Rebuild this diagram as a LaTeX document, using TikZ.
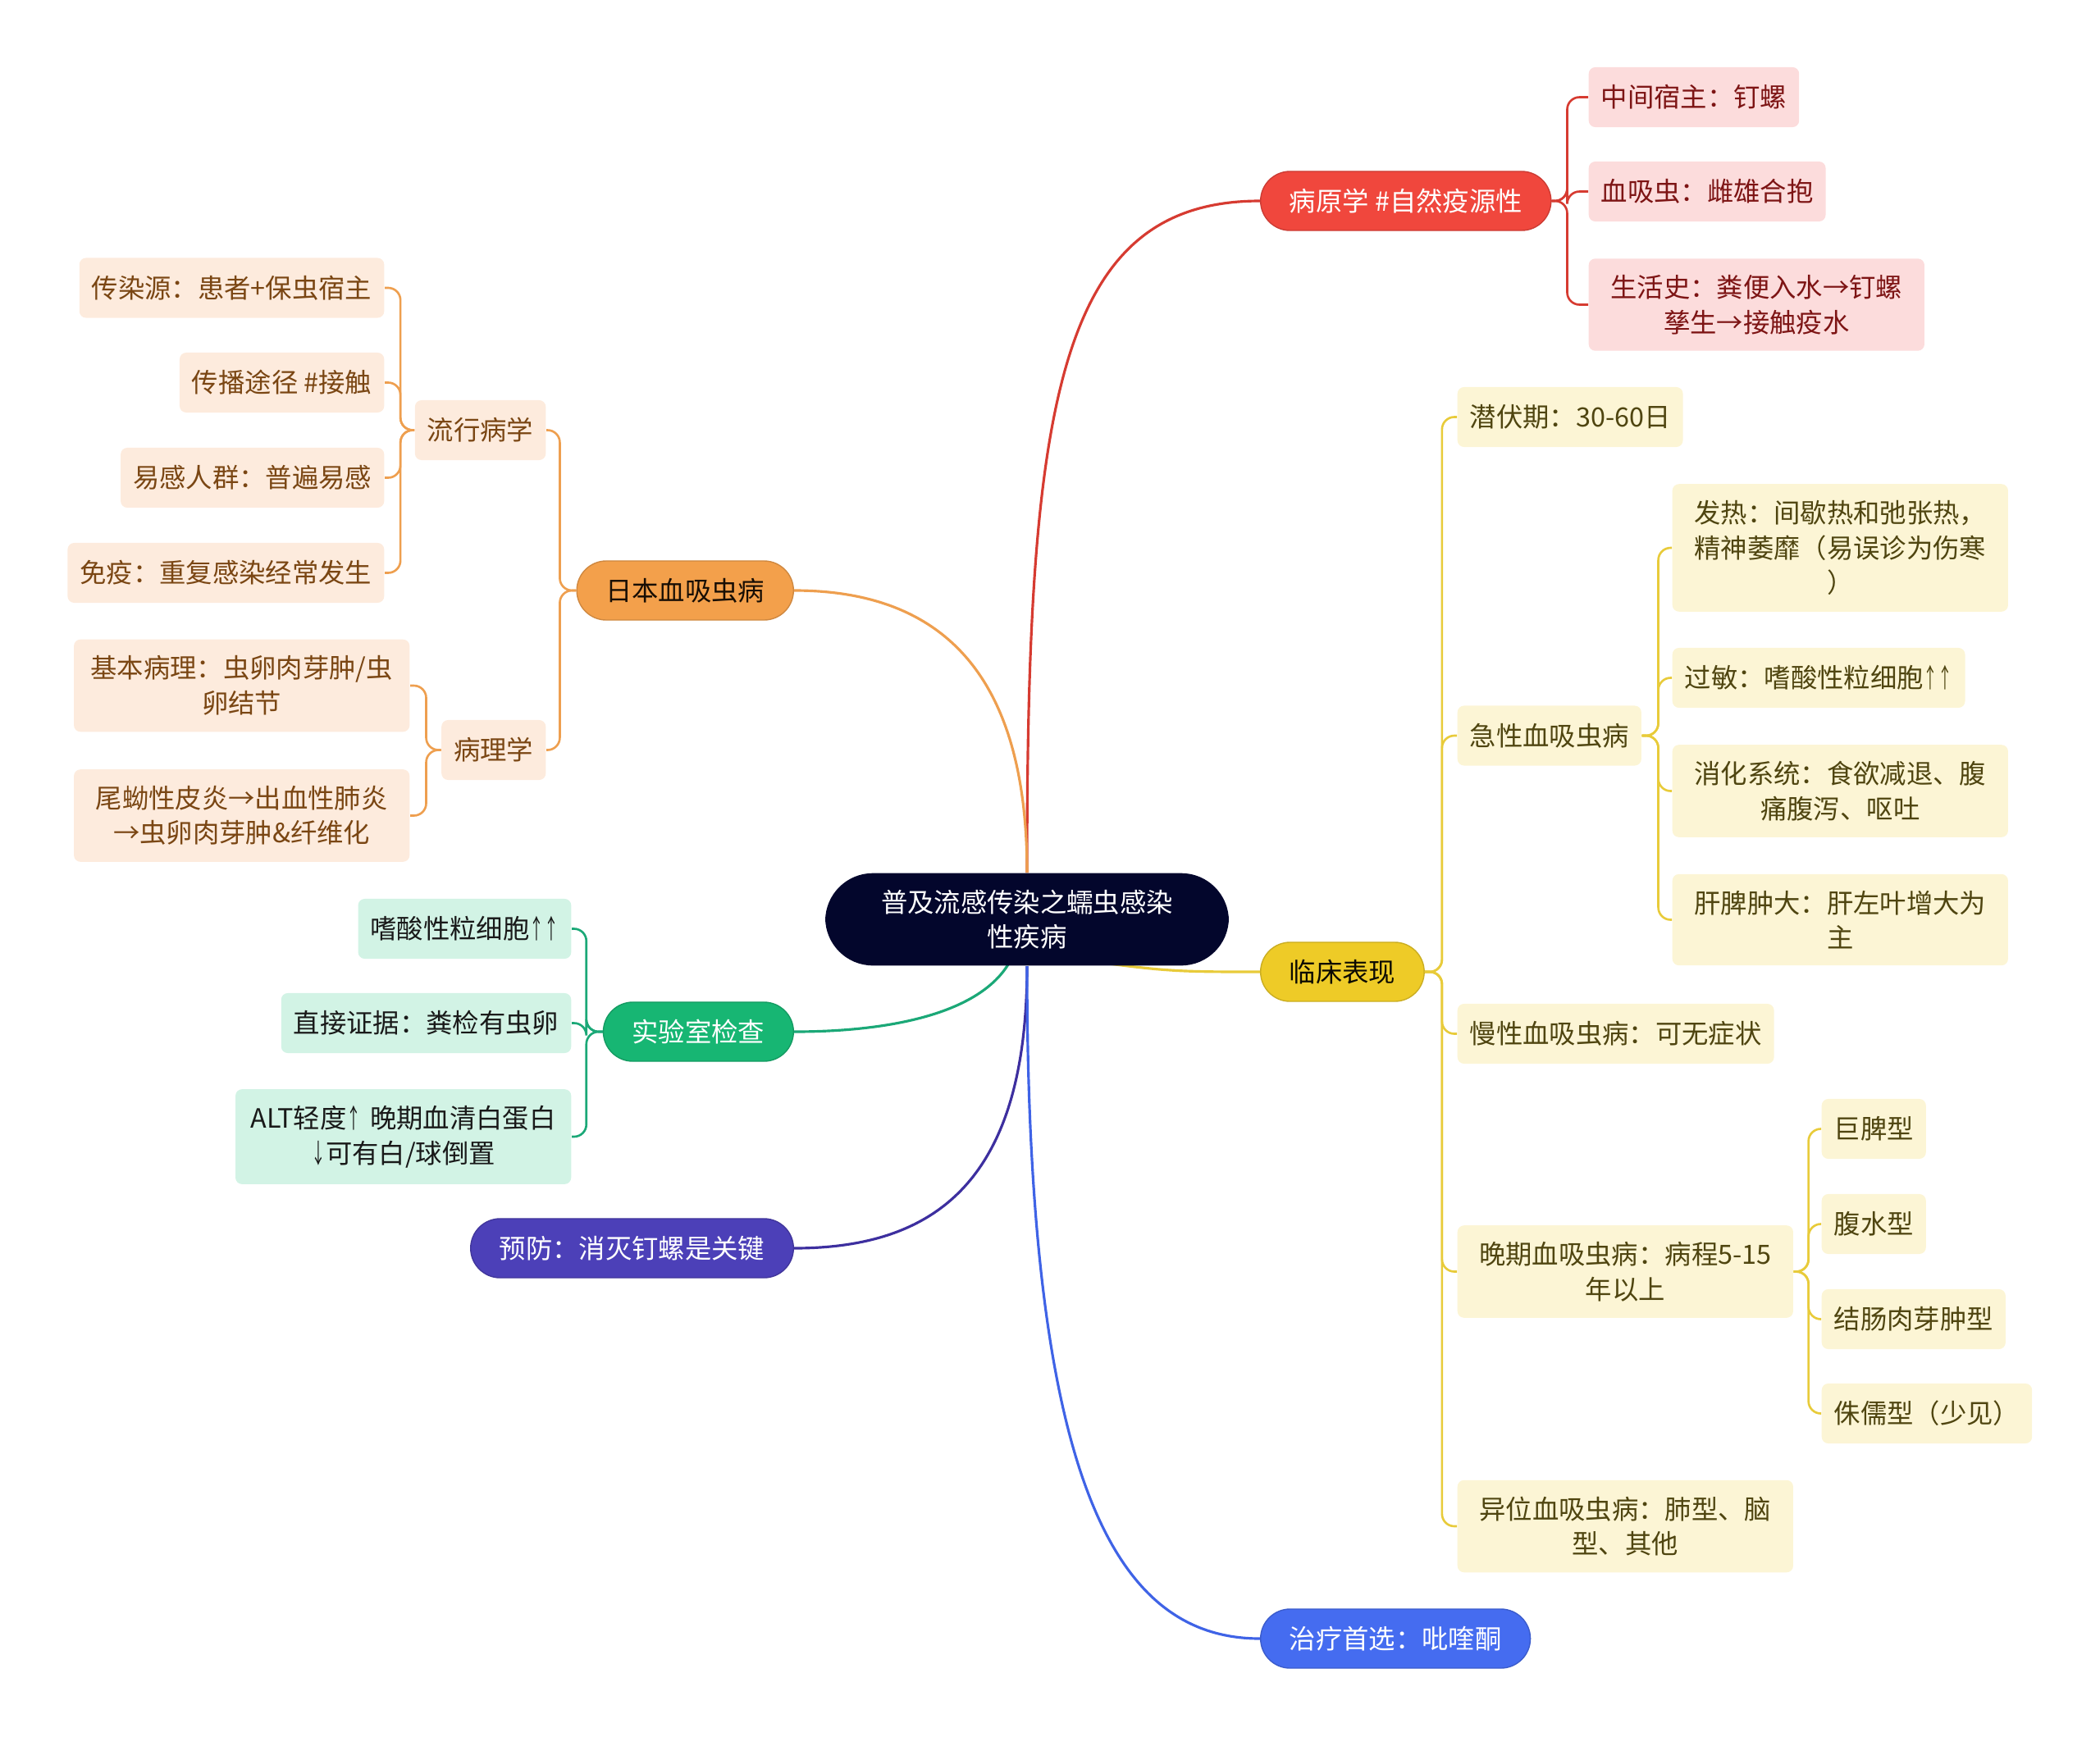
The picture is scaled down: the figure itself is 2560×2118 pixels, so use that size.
\documentclass[tikz,border=0pt]{standalone}
\usepackage{graphicx}
\usepackage{fontspec}
\setmainfont{Noto Sans CJK SC}
\newcommand\uparr{\scalebox{0.55}[1]{↑}}
\newcommand\dnarr{\scalebox{0.55}[1]{↓}}
\usetikzlibrary{positioning, backgrounds}

\definecolor{rootbg}{HTML}{03062C}
\definecolor{redm}{HTML}{F0473D}
\definecolor{orgm}{HTML}{F3A04B}
\definecolor{ylwm}{HTML}{EECB27}
\definecolor{grnm}{HTML}{17B673}
\definecolor{prpm}{HTML}{4C40B8}
\definecolor{blum}{HTML}{456CF0}
\definecolor{redlt}{HTML}{FCDCDC}
\definecolor{orglt}{HTML}{FDEBDD}
\definecolor{ylwlt}{HTML}{FCF5D5}
\definecolor{grnlt}{HTML}{D2F3E5}
\definecolor{redtx}{HTML}{7D1414}
\definecolor{orgtx}{HTML}{7A4613}
\definecolor{ylwtx}{HTML}{4F4510}
\definecolor{redln}{HTML}{D63B31}
\definecolor{ylwln}{HTML}{E8CB3A}
\definecolor{grnln}{HTML}{1BA877}
\definecolor{prpln}{HTML}{3D2F9F}
\definecolor{bluln}{HTML}{3F63E6}
\definecolor{orgln}{HTML}{EE9F4F}

\begin{document}
\begin{tikzpicture}[
    x=0.01cm, y=-0.01cm,
    font=\fontsize{9.2pt}{12.1pt}\selectfont,
    rootbox/.style={rectangle, fill=rootbg, text=white, rounded corners=0.58cm,
                    inner xsep=0.68cm, inner ysep=0.2cm, align=center},
    topicbox/.style={rectangle, rounded corners=0.36cm, minimum height=0.72cm,
                     inner xsep=0.35cm, inner ysep=0.15cm, line width=0.4pt},
    redtopic/.style={topicbox, fill=redm, draw=redm!85!black, text=white},
    orgtopic/.style={topicbox, fill=orgm, draw=orgm!85!black, text=black!80!orgtx},
    ylwtopic/.style={topicbox, fill=ylwm, draw=ylwm!85!black, text=black!85!ylwtx},
    grntopic/.style={topicbox, fill=grnm, draw=grnm!85!black, text=white},
    prptopic/.style={topicbox, fill=prpm, draw=prpm!85!black, text=white},
    blutopic/.style={topicbox, fill=blum, draw=blum!85!black, text=white},
    leafbox/.style={rectangle, rounded corners=0.08cm, minimum height=0.73cm,
                    inner xsep=0.15cm, inner ysep=0.2cm, align=center},
    twoline/.style={text width=3.79cm},
    redleaf/.style={leafbox, fill=redlt, text=redtx},
    orgleaf/.style={leafbox, fill=orglt, text=orgtx},
    ylwleaf/.style={leafbox, fill=ylwlt, text=ylwtx},
    grnleaf/.style={leafbox, fill=grnlt, text=black!90},
    link/.style={line width=0.9pt},
    brace/.style={line width=0.75pt, rounded corners=0.15cm},
]
\useasboundingbox (0,0) rectangle (2560,2118);

% Centre
\node[rootbox] (root) at (1252,1121) {普及流感传染之蠕虫感染\\性疾病};

% Main topics
\node[redtopic, anchor=west] (pya)  at (1536,245)  {病原学 \#自然疫源性};
\node[orgtopic, anchor=east] (jpn)  at (968,720)   {日本血吸虫病};
\node[ylwtopic, anchor=west] (clin) at (1536,1185) {临床表现};
\node[grntopic, anchor=east] (lab)  at (968,1258)  {实验室检查};
\node[prptopic, anchor=east] (prev) at (968,1522)  {预防：消灭钉螺是关键};
\node[blutopic, anchor=west] (cure) at (1536,1998) {治疗首选：吡喹酮};

% Aetiology
\node[redleaf, anchor=west] (host) at (1936,118.5) {中间宿主：钉螺};
\node[redleaf, anchor=west] (worm) at (1936,233.5) {血吸虫：雌雄合抱};
\node[redleaf, twoline, anchor=west] (life) at (1936,371.5) {生活史：粪便入水→钉螺\\孳生→接触疫水};

% Schistosomiasis japonica
\node[orgleaf, anchor=east] (epi)  at (666,524.5) {流行病学};
\node[orgleaf, anchor=east] (path) at (666,914.5) {病理学};

\node[orgleaf, anchor=east] (src)   at (469,351)   {传染源：患者+保虫宿主};
\node[orgleaf, anchor=east] (route) at (469,466.5) {传播途径 \#接触};
\node[orgleaf, anchor=east] (susc)  at (469,582.5) {易感人群：普遍易感};
\node[orgleaf, anchor=east] (immu)  at (469,698.5) {免疫：重复感染经常发生};

\node[orgleaf, twoline, anchor=east] (basic) at (500,836)   {基本病理：虫卵肉芽肿/虫\\卵结节};
\node[orgleaf, twoline, anchor=east] (stage) at (500,994.5) {尾蚴性皮炎→出血性肺炎\\→虫卵肉芽肿\&纤维化};

% Clinical features
\node[ylwleaf, anchor=west] (incub) at (1776,508.5) {潜伏期：30-60日};
\node[ylwleaf, anchor=west] (acute) at (1776,897) {急性血吸虫病};
\node[ylwleaf, anchor=west] (chron) at (1776,1260.5) {慢性血吸虫病：可无症状};
\node[ylwleaf, twoline, anchor=west] (late)  at (1776,1550.5) {晚期血吸虫病：病程5-15\\年以上};
\node[ylwleaf, twoline, anchor=west] (ectop) at (1776,1861) {异位血吸虫病：肺型、脑\\型、其他};

\node[ylwleaf, twoline, anchor=west] (fever) at (2038,668) {发热：间歇热和弛张热，\\精神萎靡（易误诊为伤寒\\）};
\node[ylwleaf, anchor=west] (allg) at (2038,826.5) {过敏：嗜酸性粒细胞\uparr\uparr};
\node[ylwleaf, twoline, anchor=west] (dige) at (2038,964.5) {消化系统：食欲减退、腹\\痛腹泻、呕吐};
\node[ylwleaf, twoline, anchor=west] (hepa) at (2038,1121.5) {肝脾肿大：肝左叶增大为\\主};

\node[ylwleaf, anchor=west] (splen) at (2220,1376.5) {巨脾型};
\node[ylwleaf, anchor=west] (ascit) at (2220,1492.5) {腹水型};
\node[ylwleaf, anchor=west] (colon) at (2220,1608.5) {结肠肉芽肿型};
\node[ylwleaf, anchor=west] (dwarf) at (2220,1723.5) {侏儒型（少见）};

% Laboratory tests
\node[grnleaf, anchor=east] (eos)  at (697,1132.5) {嗜酸性粒细胞\uparr\uparr};
\node[grnleaf, anchor=east] (egg)  at (697,1247.5) {直接证据：粪检有虫卵};
\node[grnleaf, twoline, anchor=east] (alt) at (697,1386) {ALT轻度\uparr~晚期血清白蛋白\\\dnarr 可有白/球倒置};

% Connectors
\begin{scope}[on background layer]
\draw[link, redln] (root.north) .. controls (1252,490) and (1290,245) .. (pya.west);
\draw[link, orgln] (root.north) .. controls (1252,816) and (1143,720) .. (jpn.east);
\draw[link, ylwln] (root.center) ++(0,40) .. controls (1420,1185) .. (clin.west);
\draw[link, grnln] (root.center) ++(-12,29) .. controls (1220,1230) and (1100,1258) .. (lab.east);
\draw[link, prpln] (root.south) .. controls (1252,1437) and (1143,1522) .. (prev.east);
\draw[link, bluln] (root.south) .. controls (1252,1796) and (1355,1998) .. (cure.west);
\end{scope}

\foreach \n in {host, worm, life}
    \draw[brace, redln] (pya.east) -- ++(19,0) |- (\n.west);
\foreach \n in {epi, path}
    \draw[brace, orgln] (jpn.west) -- ++(-20,0) |- (\n.east);
\foreach \n in {src, route, susc, immu}
    \draw[brace, orgln] (epi.west) -- ++(-17,0) |- (\n.east);
\foreach \n in {basic, stage}
    \draw[brace, orgln] (path.west) -- ++(-18,0) |- (\n.east);
\foreach \n in {incub, acute, chron, late, ectop}
    \draw[brace, ylwln] (clin.east) -- ++(21,0) |- (\n.west);
\foreach \n in {fever, allg, dige, hepa}
    \draw[brace, ylwln] (acute.east) -- ++(20,0) |- (\n.west);
\foreach \n in {splen, ascit, colon, dwarf}
    \draw[brace, ylwln] (late.east) -- ++(18,0) |- (\n.west);
\foreach \n in {eos, egg, alt}
    \draw[brace, grnln] (lab.west) -- ++(-20,0) |- (\n.east);

\end{tikzpicture}
\end{document}
